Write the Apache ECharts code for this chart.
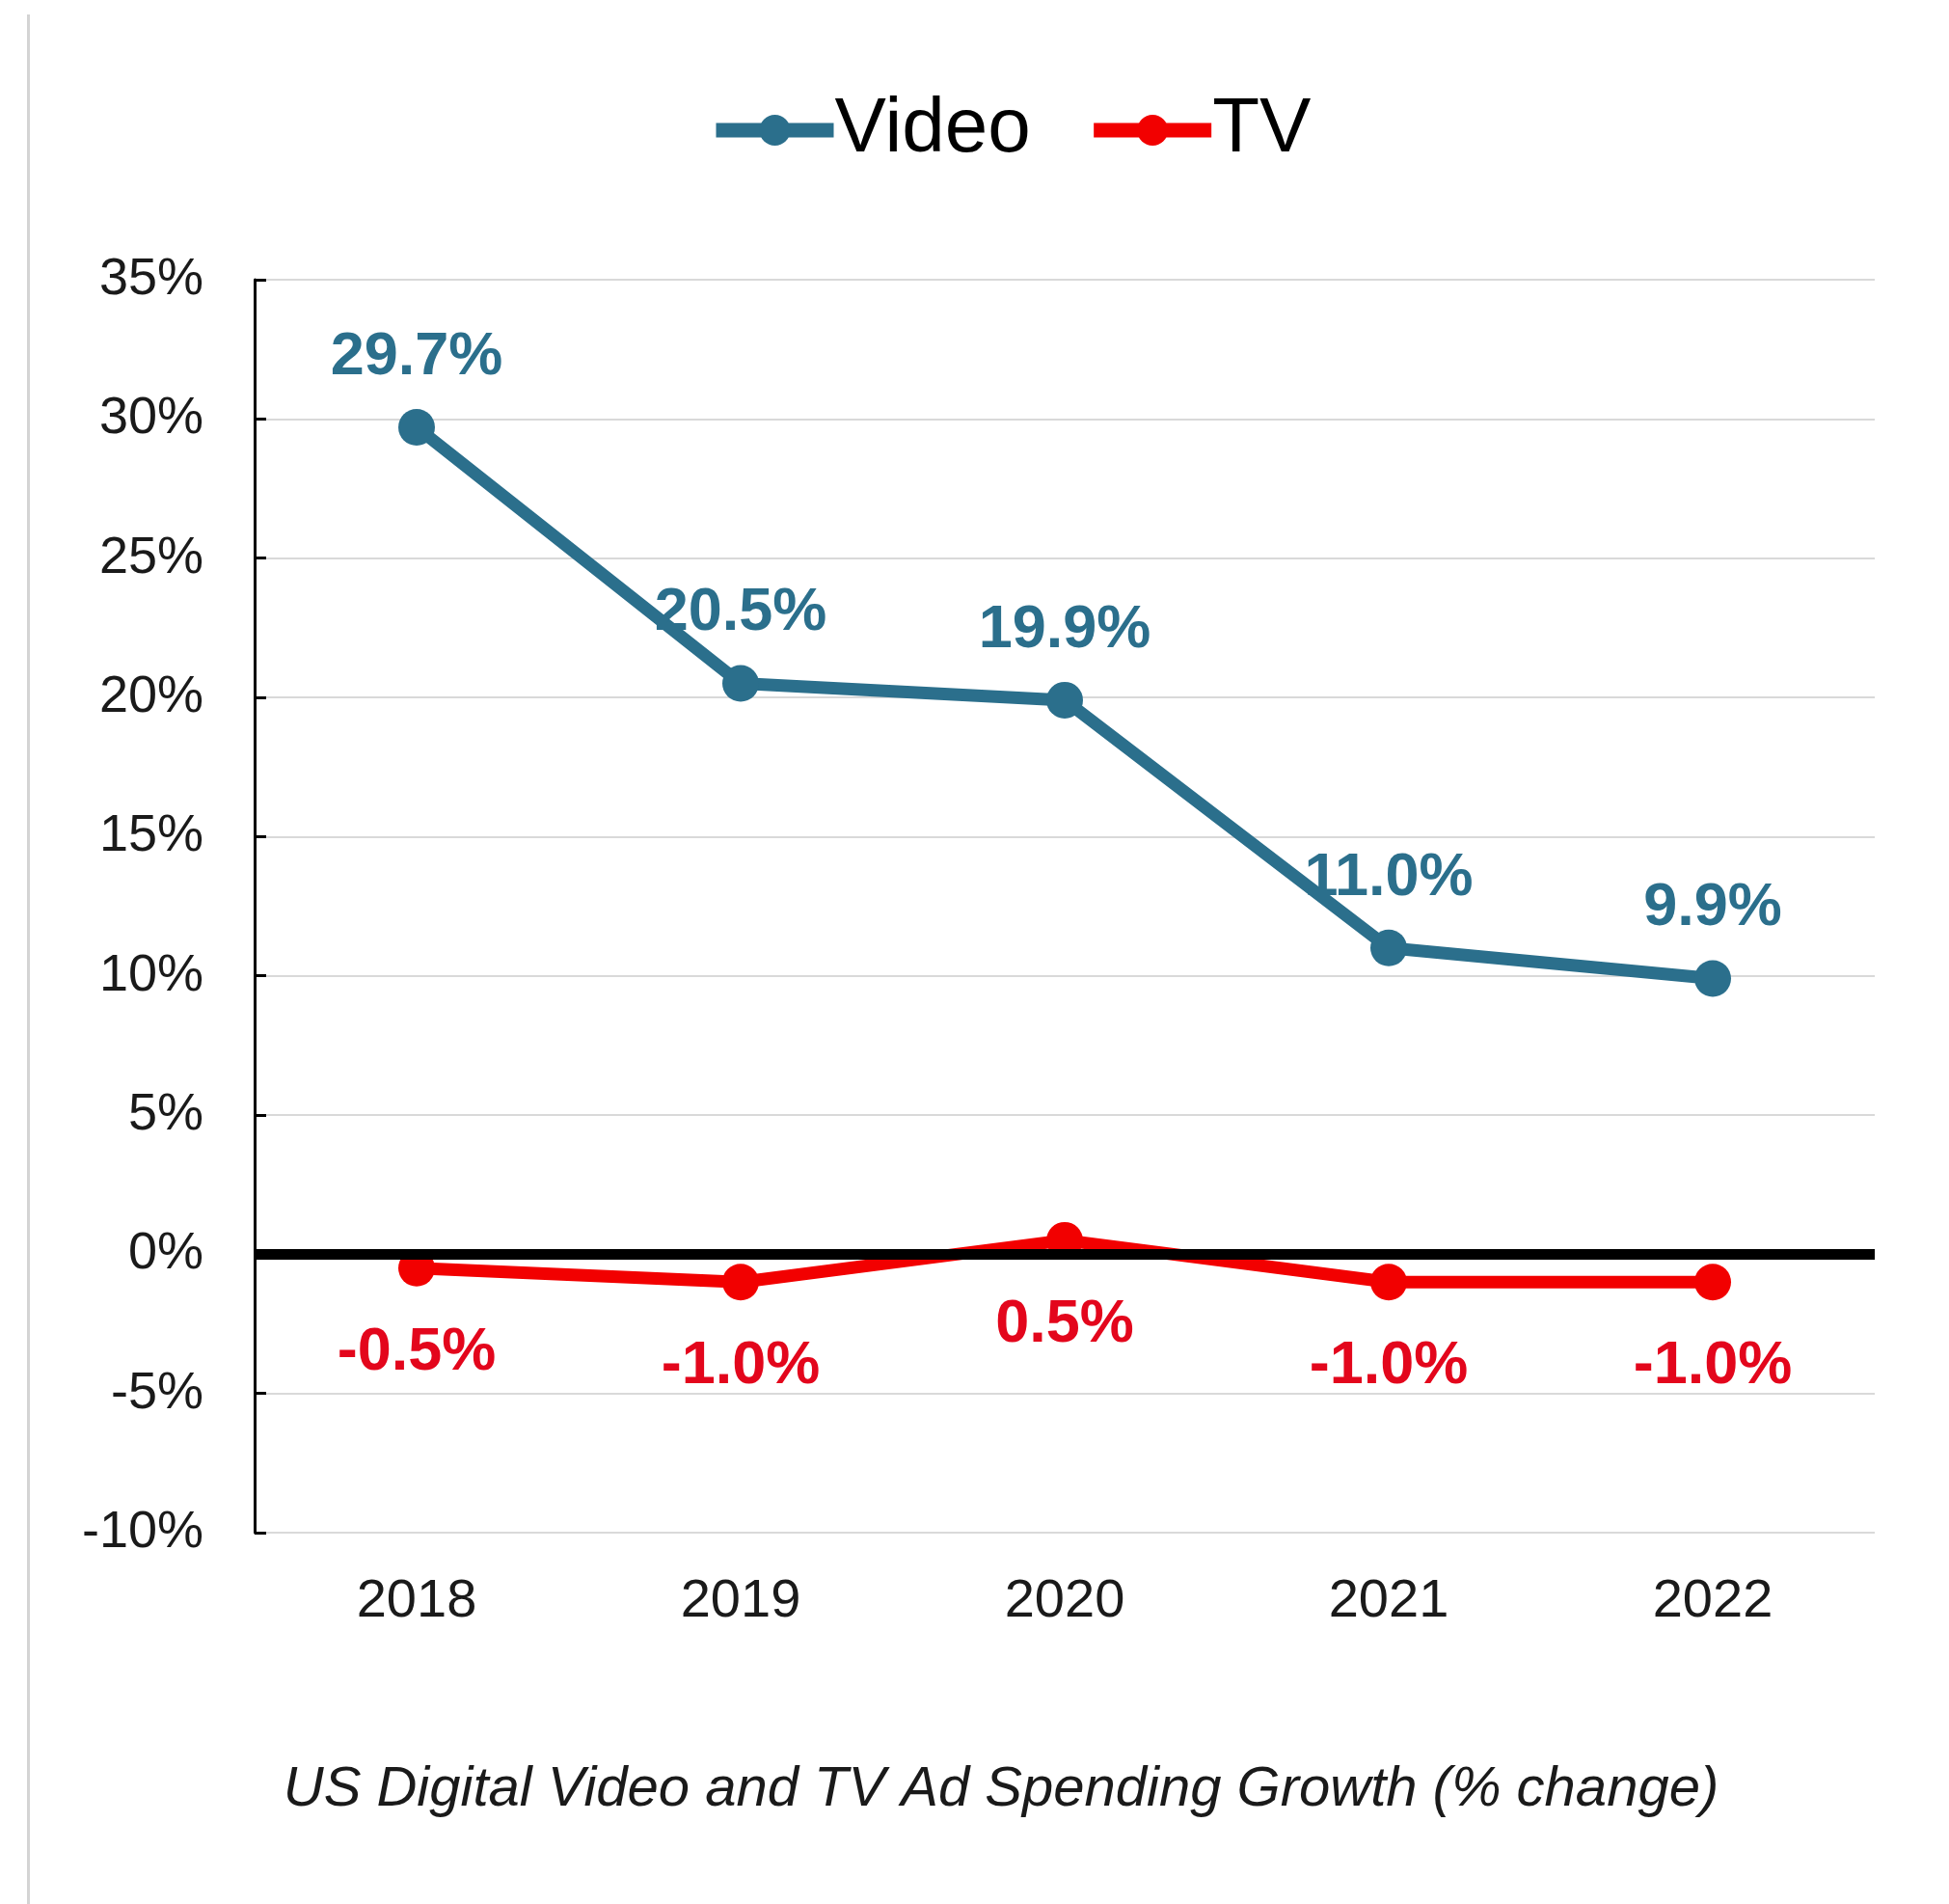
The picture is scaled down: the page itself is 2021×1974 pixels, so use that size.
<!DOCTYPE html>
<html>
<head>
<meta charset="utf-8">
<title>US Digital Video and TV Ad Spending Growth</title>
<script src="https://cdn.jsdelivr.net/npm/echarts@6/dist/echarts.min.js"></script>
<style>
  html, body { margin: 0; padding: 0; background: #ffffff; }
  #chart { width: 2021px; height: 1974px; }
</style>
</head>
<body>
<div id="chart"></div>
<script>
// Annual growth of US ad spending, % change
const years = ['2018', '2019', '2020', '2021', '2022'];
const videoGrowth = [29.7, 20.5, 19.9, 11.0, 9.9];
const tvGrowth = [-0.5, -1.0, 0.5, -1.0, -1.0];
const seriesNames = ['Video', 'TV'];
const chartTitle = 'US Digital Video and TV Ad Spending Growth (% change)';

const VIDEO_COLOR = '#2B6F8C';
const TV_COLOR = '#F20000';
const FONT = '"Liberation Sans", Arial, sans-serif';

const chart = echarts.init(document.getElementById('chart'));

const pct = p => p.value.toFixed(1) + '%';

chart.setOption({
  backgroundColor: '#ffffff',
  animation: false,
  legend: {
    data: seriesNames,
    left: 730,
    top: 90,
    itemWidth: 122,
    itemHeight: 40,
    itemGap: 58,
    lineStyle: { width: 15 },
    textStyle: { fontFamily: FONT, fontSize: 80, color: '#000000', padding: [0, 0, 0, -4] }
  },
  grid: { left: 264, right: 77, top: 290, bottom: 385, containLabel: false },
  xAxis: {
    type: 'category',
    data: years,
    boundaryGap: true,
    axisLine: { show: false },
    axisTick: { show: false },
    axisLabel: { fontFamily: FONT, fontSize: 56, color: '#1a1a1a', margin: 44 },
    splitLine: { show: false }
  },
  yAxis: {
    type: 'value',
    min: -10,
    max: 35,
    interval: 5,
    axisLine: { show: true, onZero: false, lineStyle: { color: '#000000', width: 3 } },
    axisTick: { show: true, inside: true, length: 12, lineStyle: { color: '#000000', width: 3 } },
    axisLabel: { fontFamily: FONT, fontSize: 54, color: '#1a1a1a', margin: 53, formatter: '{value}%' },
    splitLine: { show: true, lineStyle: { color: '#d9d9d9', width: 2 } }
  },
  graphic: [
    {
      type: 'rect',
      shape: { x: 28, y: 15, width: 3, height: 1959 },
      style: { fill: '#d4d4d4' },
      silent: true
    },
    {
      type: 'text',
      x: 1038,
      y: 1856,
      style: {
        text: chartTitle,
        font: 'italic 58px "Liberation Sans", Arial, sans-serif',
        fill: '#1a1a1a',
        textAlign: 'center',
        textVerticalAlign: 'middle'
      },
      silent: true
    }
  ],
  series: [
    {
      // zero baseline
      name: 'baseline',
      type: 'line',
      data: [],
      z: 1,
      silent: true,
      markLine: {
        silent: true,
        symbol: ['none', 'none'],
        label: { show: false },
        lineStyle: { color: '#000000', width: 11, type: 'solid' },
        data: [{ yAxis: 0 }]
      }
    },
    {
      name: 'Video',
      type: 'line',
      data: videoGrowth,
      z: 3,
      symbol: 'circle',
      symbolSize: 38,
      lineStyle: { color: VIDEO_COLOR, width: 13 },
      itemStyle: { color: VIDEO_COLOR },
      label: {
        show: true,
        position: 'top',
        distance: 22,
        formatter: pct,
        fontFamily: FONT,
        fontSize: 63,
        fontWeight: 'bold',
        color: VIDEO_COLOR
      }
    },
    {
      name: 'TV',
      type: 'line',
      data: tvGrowth,
      z: 4,
      symbol: 'circle',
      symbolSize: 38,
      lineStyle: { color: TV_COLOR, width: 13 },
      itemStyle: { color: TV_COLOR },
      label: {
        show: true,
        position: 'bottom',
        distance: 37,
        formatter: pct,
        fontFamily: FONT,
        fontSize: 63,
        fontWeight: 'bold',
        color: '#E3061C'
      }
    }
  ]
});
</script>
</body>
</html>
